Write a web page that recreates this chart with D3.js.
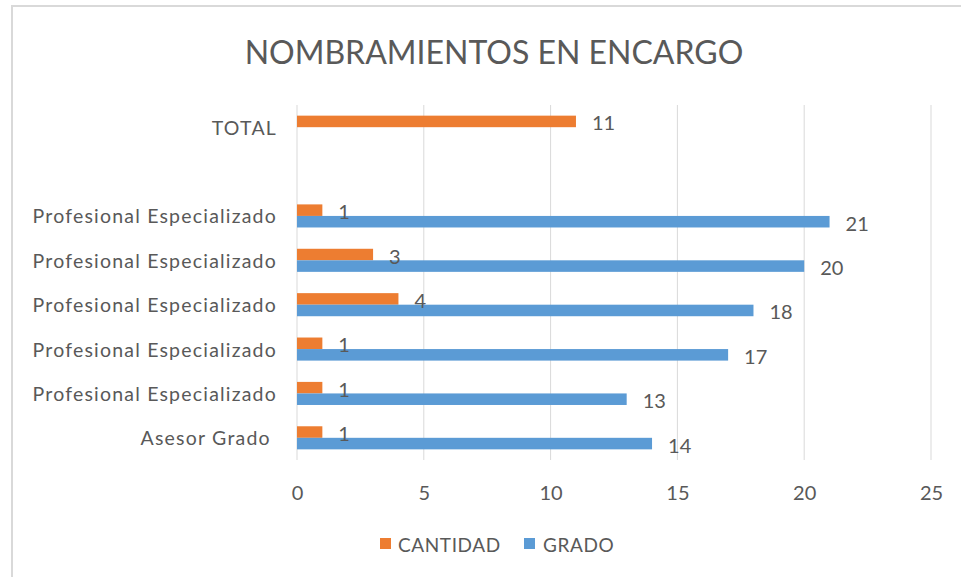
<!DOCTYPE html>
<html>
<head>
<meta charset="utf-8">
<script src="https://cdn.jsdelivr.net/npm/d3@7"></script>
<style>
  html, body { margin: 0; padding: 0; background: #fff; }
  svg text { font-family: Lato, "Open Sans", sans-serif; fill: #595959; }
</style>
</head>
<body>
<svg id="chart" width="961" height="577"></svg>
<script>
// ---- data ----
const title = "NOMBRAMIENTOS EN ENCARGO";
const categories = ["TOTAL", "", "Profesional Especializado", "Profesional Especializado",
  "Profesional Especializado", "Profesional Especializado", "Profesional Especializado", "Asesor Grado "];
const cantidad = [11, null, 1, 3, 4, 1, 1, 1];
const grado = [null, null, 21, 20, 18, 17, 13, 14];
const seriesNames = ["CANTIDAD", "GRADO"];
const xTicks = [0, 5, 10, 15, 20, 25];

// ---- layout ----
const colors = { CANTIDAD: "#ED7D31", GRADO: "#5B9BD5" };
const svg = d3.select("#chart");
const plot = { left: 297, right: 931, top: 105, bottom: 460 };

// chart border
svg.append("rect")
  .attr("x", 12).attr("y", 6).attr("width", 1200).attr("height", 1200)
  .attr("fill", "#fff").attr("stroke", "#D9D9D9").attr("stroke-width", 2);

// title
svg.append("text")
  .attr("x", 494).attr("y", 51)
  .attr("text-anchor", "middle").attr("dominant-baseline", "central")
  .style("font-size", "32px")
  .text(title);

const x = d3.scaleLinear().domain([0, 25]).range([plot.left, plot.right]);
const idx = d3.range(categories.length);
const y = d3.scaleBand().domain(idx).range([plot.top, plot.bottom])
  .paddingInner(0.48).paddingOuter(0.24);
const ySub = d3.scaleBand().domain(seriesNames).range([0, y.bandwidth()]);

// gridlines
svg.append("g").selectAll("line").data(xTicks).join("line")
  .attr("x1", d => x(d)).attr("x2", d => x(d))
  .attr("y1", plot.top).attr("y2", plot.bottom)
  .attr("stroke", "#D9D9D9").attr("stroke-width", 1);

// x-axis tick labels
const xAxis = d3.axisBottom(x).tickValues(xTicks).tickSize(0).tickPadding(0);
const gx = svg.append("g").attr("transform", `translate(0,${plot.bottom})`).call(xAxis);
gx.select(".domain").remove();
gx.selectAll("text").attr("dy", null).attr("y", 32)
  .attr("dominant-baseline", "central")
  .style("font-size", "20px").style("font-family", "Lato, 'Open Sans', sans-serif")
  .attr("fill", "#595959");

// category labels
const yAxis = d3.axisLeft(y).tickFormat(i => categories[i]).tickSize(0).tickPadding(0);
const gy = svg.append("g").attr("transform", `translate(277,0)`).call(yAxis);
gy.select(".domain").remove();
gy.selectAll("text").attr("dy", null).attr("x", 0)
  .attr("dominant-baseline", "central")
  .style("white-space", "pre")
  .style("letter-spacing", "1.2px")
  .style("font-size", "19.5px").style("font-family", "Lato, 'Open Sans', sans-serif")
  .attr("fill", "#595959");

// bars
const rows = [];
idx.forEach(i => {
  rows.push({ i, s: "CANTIDAD", v: cantidad[i] });
  rows.push({ i, s: "GRADO", v: grado[i] });
});
const valid = rows.filter(r => r.v !== null);

svg.append("g").selectAll("rect").data(valid).join("rect")
  .attr("x", x(0))
  .attr("y", d => y(d.i) + ySub(d.s))
  .attr("width", d => x(d.v) - x(0))
  .attr("height", ySub.bandwidth())
  .attr("fill", d => colors[d.s]);

// data labels
svg.append("g").selectAll("text").data(valid).join("text")
  .attr("x", d => x(d.v) + 16)
  .attr("y", d => y(d.i) + ySub(d.s) + ySub.bandwidth() / 2 + 1)
  .attr("dominant-baseline", "central")
  .style("font-size", "20px")
  .text(d => d.v);

// legend
const legendItems = [
  { name: "CANTIDAD", sx: 380, tx: 398 },
  { name: "GRADO", sx: 524, tx: 543 }
];
const lg = svg.append("g");
lg.selectAll("rect").data(legendItems).join("rect")
  .attr("x", d => d.sx).attr("y", 538).attr("width", 11).attr("height", 11)
  .attr("fill", d => colors[d.name]);
lg.selectAll("text").data(legendItems).join("text")
  .attr("x", d => d.tx).attr("y", 544)
  .attr("dominant-baseline", "central")
  .style("font-size", "19px")
  .style("letter-spacing", "0.6px")
  .text(d => d.name);
</script>
</body>
</html>
